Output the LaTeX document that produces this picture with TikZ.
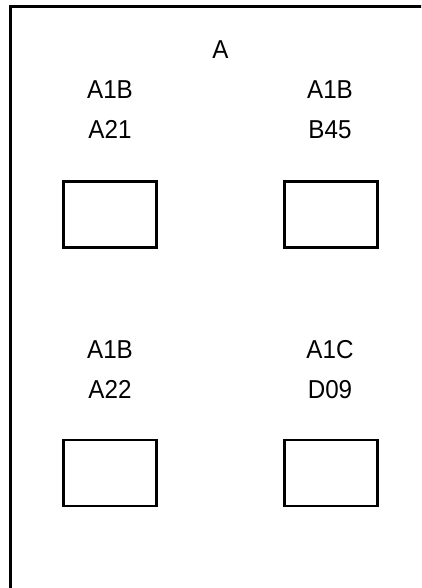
\documentclass[tikz,border=0pt]{standalone}
\usepackage{fontspec}
\setmainfont{Liberation Sans}
\begin{document}
\begin{tikzpicture}[x=1pt,y=1pt,
  lbl/.style={anchor=base,inner sep=0pt,yscale=1.07,transform shape,font=\fontsize{24.2}{28}\selectfont},
  slot/.style={draw,line width=2.8pt,minimum width=93pt,minimum height=66pt,inner sep=0pt}]
\useasboundingbox (0,0) rectangle (421,588);
\clip (0,0) rectangle (421,588);
\draw[line width=3pt] (10.5,-20) rectangle (450,581.5);
\node[lbl] (title) at (220.5,529) {A};
\node[lbl] (l1a) at (110,489) {A1B};
\node[lbl] (l1b) at (110,449) {A21};
\node[lbl] (r1a) at (330,489) {A1B};
\node[lbl] (r1b) at (330,449) {B45};
\node[lbl] (l2a) at (110,229) {A1B};
\node[lbl] (l2b) at (110,189) {A22};
\node[lbl] (r2a) at (330,229) {A1C};
\node[lbl] (r2b) at (330,189) {D09};
\node[slot] (b1) at (110,373.5) {};
\node[slot] (b2) at (331,373.5) {};
\node[slot] (b3) at (110,115) {};
\node[slot] (b4) at (331,115) {};
\end{tikzpicture}
\end{document}
